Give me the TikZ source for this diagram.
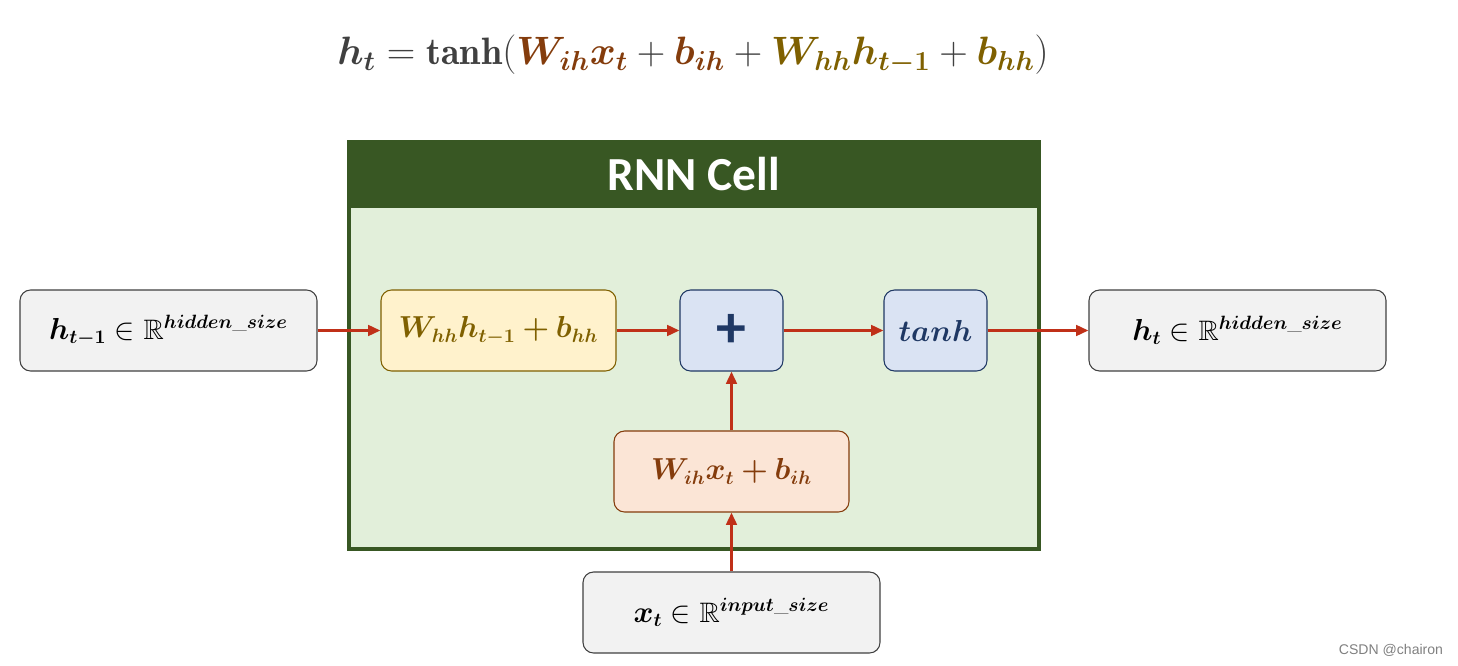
\documentclass[tikz,border=0pt]{standalone}
\usepackage{amsmath,amssymb,bm}
\usepackage{fontspec}
\usetikzlibrary{arrows.meta, positioning}
\newfontfamily\cellfont{Carlito}
\newfontfamily\markfont{Liberation Sans}
\definecolor{cellGreen}{RGB}{56, 87, 35}
\definecolor{cellFill}{RGB}{226, 239, 218}
\definecolor{ioGray}{RGB}{242, 242, 242}
\definecolor{ioLine}{RGB}{64, 64, 64}
\definecolor{hhFill}{RGB}{255, 242, 204}
\definecolor{hhGold}{RGB}{127, 96, 0}
\definecolor{ihFill}{RGB}{251, 229, 214}
\definecolor{ihBrown}{RGB}{132, 60, 12}
\definecolor{opFill}{RGB}{218, 227, 243}
\definecolor{opNavy}{RGB}{31, 56, 100}
\definecolor{flowRed}{RGB}{192, 48, 24}

\begin{document}
\begin{tikzpicture}
        \tikzstyle{box} = [rectangle, rounded corners=6pt, minimum height=1.62cm, text centered, font=\fontsize{16}{20}\selectfont, line width=0.6pt]
        \tikzstyle{io} = [box, minimum width=5.94cm, fill=ioGray, draw=ioLine]
        \tikzstyle{op} = [box, minimum width=2.06cm, fill=opFill, draw=opNavy, text=opNavy]
        \tikzstyle{arrow} = [-{Triangle[length=7pt, width=6pt]}, line width=1.6pt, flowRed]
        \useasboundingbox (0,0) rectangle (29.16,13.3);

        % Formula
        \node[font=\fontsize{24}{28}\selectfont, text=ioLine, scale=0.905] (formula) at (13.86,12.2)
            {$\boldsymbol{h_t} = \mathbf{tanh}(\textcolor{ihBrown}{\boldsymbol{W_{ih}x_t}} + \textcolor{ihBrown}{\boldsymbol{b_{ih}}} + \textcolor{hhGold}{\boldsymbol{W_{hh}h_{t-1}}} + \textcolor{hhGold}{\boldsymbol{b_{hh}}})$};

        % RNN Cell
        \node[rectangle, minimum width=13.8cm, minimum height=8.14cm, fill=cellFill, draw=cellGreen, line width=2.3pt] (cell) at (13.88,6.39) {};
        \node[rectangle, anchor=north, minimum width=13.8cm, minimum height=1.36cm, fill=cellGreen, text=white, font=\cellfont\bfseries\fontsize{27}{30}\selectfont] (head) at (cell.north) {RNN Cell};

        % Inputs and output
        \node[io] (hprev) at (3.37,6.69) {$\boldsymbol{h_{t-1}} \in \mathbb{R}^{\boldsymbol{hidden\_size}}$};
        \node[io] (hnext) at (24.75,6.69) {$\boldsymbol{h_t} \in \mathbb{R}^{\boldsymbol{hidden\_size}}$};
        \node[io] (xin) at (14.63,1.05) {$\boldsymbol{x_t} \in \mathbb{R}^{\boldsymbol{input\_size}}$};

        % Inside the cell
        \node[box, minimum width=4.7cm, fill=hhFill, draw=hhGold, text=hhGold] (whh) at (9.97,6.69) {$\boldsymbol{W_{hh}h_{t-1} + b_{hh}}$};
        \node[op, font=\cellfont\bfseries\fontsize{34}{34}\selectfont] (plus) at (14.63,6.69) {+};
        \node[op] (tanh) at (18.71,6.69) {$\boldsymbol{tanh}$};
        \node[box, minimum width=4.7cm, fill=ihFill, draw=ihBrown, text=ihBrown] (wih) at (14.63,3.87) {$\boldsymbol{W_{ih}x_t + b_{ih}}$};

        \draw[arrow] (hprev) -- (whh);
        \draw[arrow] (whh) -- (plus);
        \draw[arrow] (plus) -- (tanh);
        \draw[arrow] (tanh) -- (hnext);
        \draw[arrow] (xin) -- (wih);
        \draw[arrow] (wih) -- (plus);

        \node[font=\markfont\fontsize{8}{10}\selectfont, text=gray] (mark) at (27.82,0.3) {CSDN @chairon};
    \end{tikzpicture}
\end{document}
